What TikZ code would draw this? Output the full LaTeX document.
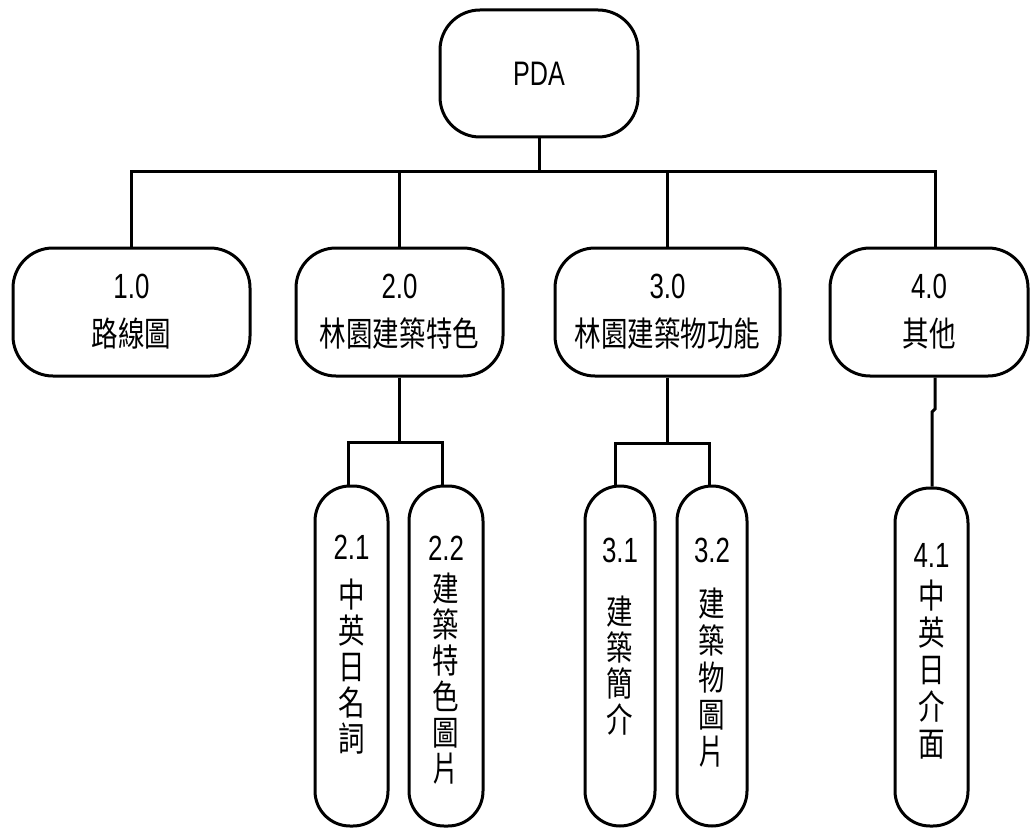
\documentclass[tikz,border=0pt]{standalone}
\usepackage{fontspec}
\setmainfont[FakeStretch=0.74]{Liberation Sans}
\newfontfamily\cjk[FakeStretch=0.78]{Noto Sans CJK TC}
\newcommand{\lat}{\fontsize{35}{48}\selectfont}
\begin{document}
\begin{tikzpicture}[x=1pt,y=-1pt,
  box/.style={draw,line width=3pt,rounded corners=40pt,inner sep=0pt,align=center,
    font=\fontsize{34}{48}\selectfont},
  tall/.style={draw,line width=3pt,rounded corners=35pt,inner sep=0pt,
    minimum width=73pt,minimum height=340pt},
  vtext/.style={anchor=north,inner sep=0pt,align=center},
  link/.style={line width=3pt,line join=miter}]
\useasboundingbox (0,0) rectangle (1030,829);
% level 0
\node[box,minimum width=198pt,minimum height=127pt,font=\fontsize{34}{48}\selectfont] (pda) at (539,73.5) {PDA};
% level 1
\node[box,minimum width=237pt,minimum height=128pt] (n1) at (131.5,312) {{\lat 1.0}\\{\cjk 路線圖}};
\node[box,minimum width=207pt,minimum height=128pt] (n2) at (399.5,312) {{\lat 2.0}\\{\cjk 林園建築特色}};
\node[box,minimum width=225pt,minimum height=128pt] (n3) at (667.5,312) {{\lat 3.0}\\{\cjk 林園建築物功能}};
\node[box,minimum width=198pt,minimum height=128pt] (n4) at (929,312) {{\lat 4.0}\\{\cjk 其他}};
% level 2
\node[tall] (n21) at (351.5,656) {};
\node[tall,minimum width=74pt] (n22) at (446,656) {};
\node[tall,minimum width=70pt] (n31) at (620,656) {};
\node[tall,minimum width=70pt] (n32) at (712,656) {};
\node[tall,minimum height=338pt] (n41) at (931.5,657) {};
% vertical texts
\node[vtext,font=\fontsize{34}{36}\selectfont] (t21) at (351.5,535)
  {{\lat 2.1}\\[12pt]{\cjk 中}\\{\cjk 英}\\{\cjk 日}\\{\cjk 名}\\{\cjk 詞}};
\node[vtext,font=\fontsize{34}{36}\selectfont] (t22) at (446,536)
  {{\lat 2.2}\\[5pt]{\cjk 建}\\{\cjk 築}\\{\cjk 特}\\{\cjk 色}\\{\cjk 圖}\\{\cjk 片}};
\node[vtext,font=\fontsize{34}{36}\selectfont] (t31) at (620,538)
  {{\lat 3.1}\\[26pt]{\cjk 建}\\{\cjk 築}\\{\cjk 簡}\\{\cjk 介}};
\node[vtext,font=\fontsize{34}{37}\selectfont] (t32) at (712,538)
  {{\lat 3.2}\\[17pt]{\cjk 建}\\{\cjk 築}\\{\cjk 物}\\{\cjk 圖}\\{\cjk 片}};
\node[vtext,font=\fontsize{34}{37}\selectfont] (t41) at (931.5,543)
  {{\lat 4.1}\\[4pt]{\cjk 中}\\{\cjk 英}\\{\cjk 日}\\{\cjk 介}\\{\cjk 面}};
% connectors level 0 -> 1
\coordinate (b1) at (131,172);
\coordinate (b4) at (935,172);
\draw[link] (n1.north) -- (n1.north |- b1) -- (b4) -- (n4.north -| b4);
\draw[link] (pda.south) -- (pda.south |- b1);
\draw[link] (n2.north) -- (n2.north |- b1);
\draw[link] (n3.north) -- (n3.north |- b1);
% connectors level 1 -> 2
\coordinate (j21) at (348,442);
\coordinate (j22) at (442,442);
\draw[link] (n21.north -| j21) -- (j21) -- (j22) -- (n22.north -| j22);
\draw[link] (n2.south) -- (n2.south |- j21);
\coordinate (j31) at (615,443);
\coordinate (j32) at (709,443);
\draw[link] (n31.north -| j31) -- (j31) -- (j32) -- (n32.north -| j32);
\draw[link] (n3.south) -- (n3.south |- j31);
\coordinate (k1) at (935,409);
\coordinate (k2) at (932,412);
\draw[link] (n4.south -| b4) -- (k1) -- (k2) -- (n41.north -| k2);
\end{tikzpicture}
\end{document}
